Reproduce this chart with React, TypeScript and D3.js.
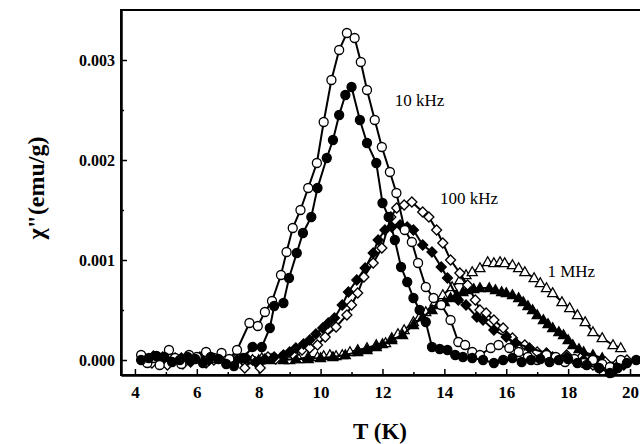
import { useRef, useEffect } from 'react'
import * as d3 from 'd3'

// [T (K), chi'' (emu/g)]
const openCircles = [
  [4.2, 0.00005], [4.4, -0.00003], [4.6, 0.00002], [4.8, -0.00005], [5.1, 0.0001], [5.3, 0.00002],
  [5.5, -0.00004], [5.75, 0.00005], [6.0, 0.00003], [6.3, 0.00008], [6.55, 0.00002], [6.8, 0.00007],
  [7.05, 0.00001], [7.3, 0.0001], [7.7, 0.00037], [7.97, 0.00034], [8.2, 0.00048], [8.43, 0.00059],
  [8.72, 0.00085], [8.9, 0.00108], [9.1, 0.00132], [9.35, 0.0015], [9.6, 0.00172], [9.88, 0.00197],
  [10.1, 0.00238], [10.35, 0.0028], [10.6, 0.0031], [10.85, 0.00327], [11.1, 0.00322], [11.3, 0.00298],
  [11.5, 0.0027], [11.75, 0.0024], [11.98, 0.00213], [12.24, 0.00188], [12.45, 0.00167], [12.72, 0.0013],
  [12.95, 0.00118], [13.15, 0.00097], [13.4, 0.00073], [13.65, 0.00062], [13.9, 0.00055], [14.2, 0.0004],
  [14.45, 0.00018], [14.67, 0.00015], [14.9, 0.00008], [15.15, 0.00005], [15.5, 0.00012], [15.75, 0.00015],
  [16.1, 0.00012], [16.4, 0.00008], [16.7, 0.00003], [17.0, 0.0], [17.3, 0.00005], [17.6, 0.00003],
  [17.9, -0.00002], [18.2, 0.00001], [18.5, -0.00003], [18.8, 0.0], [19.1, -0.00004], [19.35, -0.00007],
  [19.7, 0.0]
]

const filledCircles = [
  [4.2, 0.0], [4.45, 0.00002], [4.7, 0.00004], [4.95, 0.00003], [5.2, -0.00002], [5.45, 0.0],
  [5.7, 0.00003], [5.95, 0.00001], [6.2, -0.00003], [6.45, 0.00003], [6.7, 0.00001], [6.95, -0.00004],
  [7.2, -0.00006], [7.5, 0.00002], [7.8, 0.00013], [8.1, 0.00013], [8.36, 0.00032], [8.5, 0.00054],
  [8.8, 0.00057], [8.98, 0.00082], [9.23, 0.00107], [9.43, 0.00127], [9.7, 0.00143], [9.9, 0.00172],
  [10.2, 0.00202], [10.4, 0.0022], [10.6, 0.00245], [10.8, 0.00265], [11.0, 0.00273], [11.27, 0.0024],
  [11.5, 0.00217], [11.8, 0.00197], [12.0, 0.00157], [12.2, 0.00143], [12.4, 0.0012], [12.6, 0.00093],
  [12.8, 0.00078], [13.0, 0.00062], [13.2, 0.0005], [13.4, 0.00038], [13.6, 0.00013], [13.85, 0.00011],
  [14.1, 0.0001], [14.35, 0.00005], [14.6, 0.00003], [14.9, 0.00002], [15.25, 0.0], [15.6, -0.00003],
  [15.9, 0.0], [16.2, 0.00002], [16.5, -0.00002], [16.8, 0.0], [17.1, 0.00001], [17.4, -0.00002],
  [17.7, 0.0], [18.0, 0.00001], [18.3, -0.00003], [18.6, -0.00005], [19.0, -0.00008], [19.35, -0.00013],
  [19.6, -0.00008], [19.9, -0.00003], [20.2, 0.0]
]

const openDiamonds = [
  [4.3, 0.00002], [4.55, -0.00003], [4.8, 0.0], [5.05, -0.00005], [5.3, 0.00002], [5.55, -0.00004],
  [5.8, 0.0], [6.05, 0.00002], [6.3, -0.00003], [6.55, 0.0], [6.8, 0.00003], [7.05, 0.0],
  [7.3, 0.00002], [7.55, -0.00008], [7.8, 0.0], [8.05, -0.00008], [8.3, 0.00003], [8.55, 0.00001],
  [8.8, 0.00004], [9.1, 0.00006], [9.4, 0.0001], [9.65, 0.00012], [9.9, 0.00015], [10.15, 0.00023],
  [10.5, 0.00033], [10.85, 0.00045], [11.0, 0.00055], [11.2, 0.00067], [11.4, 0.00083], [11.7, 0.00097],
  [11.98, 0.00112], [12.27, 0.00143], [12.46, 0.00152], [12.7, 0.00155], [12.95, 0.00158], [13.3, 0.00148],
  [13.5, 0.00143], [13.75, 0.0013], [13.95, 0.00117], [14.2, 0.001], [14.5, 0.00087], [14.75, 0.00075],
  [15.0, 0.0006], [15.15, 0.0005], [15.35, 0.00047], [15.6, 0.0004], [15.9, 0.00032], [16.2, 0.00022],
  [16.6, 0.00015], [17.0, 0.00008], [17.5, 0.00003], [17.95, 0.00005], [18.4, 0.00002], [18.8, -0.00005],
  [19.2, -0.00002], [19.6, -0.00003], [19.9, 0.0]
]

const filledDiamonds = [
  [4.3, 0.0], [4.6, 0.00004], [4.9, 0.00003], [5.2, 0.0], [5.5, 0.00002], [5.8, -0.00002],
  [6.1, 0.00003], [6.4, 0.0], [6.7, 0.00002], [7.0, -0.00002], [7.3, 0.0], [7.6, 0.00002],
  [7.9, -0.00002], [8.2, 0.00001], [8.5, 0.00003], [8.8, 0.00005], [9.0, 0.00008], [9.2, 0.00012],
  [9.45, 0.00016], [9.65, 0.0002], [9.85, 0.00026], [10.07, 0.00032], [10.25, 0.00037], [10.45, 0.00042],
  [10.7, 0.00055], [10.9, 0.00068], [11.17, 0.0008], [11.44, 0.00092], [11.7, 0.00107], [11.86, 0.0012],
  [12.08, 0.0013], [12.3, 0.00133], [12.57, 0.00135], [12.8, 0.00133], [13.0, 0.0013], [13.3, 0.00115],
  [13.6, 0.00108], [13.9, 0.00093], [14.1, 0.00082], [14.45, 0.0006], [14.7, 0.00055], [15.05, 0.00043],
  [15.25, 0.0004], [15.6, 0.0003], [16.0, 0.00023], [16.3, 0.00017], [16.75, 0.00012], [17.3, 0.00007],
  [17.95, 0.00003], [18.5, 0.0], [19.0, -0.00007], [19.45, -0.00012], [19.8, -0.00005]
]

const openTriangles = [
  [7.8, 0.0], [8.1, 0.00002], [8.4, 0.0], [8.7, 0.00002], [9.0, 0.0], [9.3, 0.00001],
  [9.6, 0.00003], [9.9, 0.00003], [10.1, 0.00004], [10.3, 0.00005], [10.5, 0.00004], [10.7, 0.00005],
  [10.95, 0.00008], [11.2, 0.0001], [11.5, 0.00012], [11.8, 0.00015], [12.1, 0.00017], [12.3, 0.00022],
  [12.5, 0.00026], [12.7, 0.0003], [13.0, 0.00038], [13.2, 0.00043], [13.4, 0.00048], [13.7, 0.00058],
  [13.95, 0.00065], [14.25, 0.00073], [14.5, 0.0008], [14.7, 0.00085], [14.9, 0.00088], [15.15, 0.00092],
  [15.4, 0.00098], [15.6, 0.00097], [15.8, 0.00098], [15.95, 0.00097], [16.2, 0.00095], [16.4, 0.00092],
  [16.6, 0.00088], [16.9, 0.00082], [17.1, 0.00077], [17.3, 0.00072], [17.5, 0.00067], [17.8, 0.00058],
  [18.05, 0.00052], [18.3, 0.00045], [18.55, 0.00038], [18.8, 0.00028], [19.1, 0.00022], [19.45, 0.00015],
  [19.7, 0.00012]
]

const filledTriangles = [
  [8.0, 0.0], [8.4, 0.00001], [8.8, 0.0], [9.2, 0.00001], [9.6, 0.00001], [10.0, 0.00002],
  [10.4, 0.00003], [10.8, 0.00005], [11.2, 0.00008], [11.5, 0.0001], [11.8, 0.00013], [12.0, 0.00016],
  [12.3, 0.0002], [12.65, 0.00025], [13.0, 0.00035], [13.3, 0.00043], [13.6, 0.0005], [13.8, 0.00055],
  [14.0, 0.00058], [14.2, 0.00062], [14.4, 0.00065], [14.6, 0.00068], [14.75, 0.0007], [14.95, 0.00071],
  [15.15, 0.00072], [15.45, 0.00072], [15.65, 0.0007], [15.85, 0.00068], [16.0, 0.00067], [16.2, 0.00065],
  [16.4, 0.00062], [16.55, 0.00058], [16.7, 0.00054], [16.85, 0.0005], [17.0, 0.00045], [17.2, 0.0004],
  [17.35, 0.00036], [17.5, 0.00032], [17.7, 0.00028], [17.85, 0.00025], [18.0, 0.0002], [18.15, 0.00015],
  [18.35, 0.00011], [18.5, 0.00008], [18.8, 0.00005], [19.1, 0.00002]
]

const xMajor = [4, 6, 8, 10, 12, 14, 16, 18, 20]
const xMinor = [5, 7, 9, 11, 13, 15, 17, 19]
const yMajor = [0, 0.001, 0.002, 0.003]
const yMinor = [0.0005, 0.0015, 0.0025]

const curveLabels = [
  { text: '10 kHz', T: 13.2, v: 0.00254 },
  { text: '100 kHz', T: 14.8, v: 0.00156 },
  { text: '1 MHz', T: 18.1, v: 0.00083 }
]

const FONT = 'Liberation Serif, Times New Roman, serif'

const App = () => {
  const ref = useRef(null)

  useEffect(() => {
    const width = 640, height = 444
    const svg = d3.select(ref.current)
    svg.attr('width', width).attr('height', height)
    svg.selectAll('*').remove()

    const x = d3.scaleLinear().domain([3.55, 20.5]).range([121, 645.5])
    const y = d3.scaleLinear().domain([-0.00015, 0.0035]).range([375, 10])

    // frame
    svg.append('rect')
      .attr('x', x.range()[0]).attr('y', y.range()[1])
      .attr('width', x.range()[1] - x.range()[0])
      .attr('height', y.range()[0] - y.range()[1])
      .attr('fill', 'none').attr('stroke', '#000').attr('stroke-width', 2)

    // axes, ticks pointing inward
    const xAxis = svg.append('g').attr('transform', `translate(0,${y.range()[0]})`)
      .call(d3.axisBottom(x).tickValues(xMajor).tickSizeInner(-6).tickSizeOuter(0).tickPadding(11).tickFormat(d3.format('d')))
    const xMinorAxis = svg.append('g').attr('transform', `translate(0,${y.range()[0]})`)
      .call(d3.axisBottom(x).tickValues(xMinor).tickSizeInner(-3).tickSizeOuter(0).tickFormat(() => ''))
    const yAxis = svg.append('g').attr('transform', `translate(${x.range()[0]},0)`)
      .call(d3.axisLeft(y).tickValues(yMajor).tickSizeInner(-6).tickSizeOuter(0).tickPadding(6).tickFormat(d3.format('.3f')))
    const yMinorAxis = svg.append('g').attr('transform', `translate(${x.range()[0]},0)`)
      .call(d3.axisLeft(y).tickValues(yMinor).tickSizeInner(-3).tickSizeOuter(0).tickFormat(() => ''))

    ;[xAxis, xMinorAxis, yAxis, yMinorAxis].forEach(g => {
      g.attr('font-family', null)
      g.select('.domain').attr('stroke-width', 2)
      g.selectAll('.tick line').attr('stroke-width', 1.5)
    })
    ;[xAxis, yAxis].forEach(g => {
      g.selectAll('.tick text')
        .style('font-family', FONT).style('font-size', '17px').style('font-weight', 'bold').attr('fill', '#000')
    })
    yAxis.selectAll('.tick text').style('font-size', '16px')

    // axis titles
    svg.append('text')
      .attr('x', 380).attr('y', 439)
      .attr('text-anchor', 'middle')
      .style('font-family', FONT).style('font-size', '23px').style('font-weight', 'bold')
      .text('T (K)')
    svg.append('text')
      .attr('transform', 'translate(44,188) rotate(-90)')
      .attr('text-anchor', 'middle')
      .style('font-family', FONT).style('font-size', '24px').style('font-weight', 'bold')
      .text('χ"(emu/g)')

    const line = d3.line().x(d => x(d[0])).y(d => y(d[1]))

    const circle = 'M4.5,0A4.5,4.5,0,1,1,-4.5,0A4.5,4.5,0,1,1,4.5,0Z'
    const diamond = 'M0,-5L5,0L0,5L-5,0Z'
    const triangle = 'M0,-5.2L5,3.6L-5,3.6Z'

    const series = [
      { data: openTriangles, shape: triangle, filled: false },
      { data: filledTriangles, shape: triangle, filled: true },
      { data: openDiamonds, shape: diamond, filled: false },
      { data: filledDiamonds, shape: diamond, filled: true },
      { data: openCircles, shape: circle, filled: false },
      { data: filledCircles, shape: circle, filled: true }
    ]

    const plot = svg.append('g')
    series.forEach(s => {
      plot.append('path')
        .datum(s.data)
        .attr('d', line)
        .attr('fill', 'none')
        .attr('stroke', '#000')
        .attr('stroke-width', 2)
      plot.append('g')
        .selectAll('path')
        .data(s.data)
        .enter()
        .append('path')
          .attr('d', s.shape)
          .attr('transform', d => `translate(${x(d[0])},${y(d[1])})`)
          .attr('fill', s.filled ? '#000' : '#fff')
          .attr('stroke', '#000')
          .attr('stroke-width', 1.3)
    })

    // curve labels
    svg.append('g')
      .selectAll('text')
      .data(curveLabels)
      .enter()
      .append('text')
        .attr('x', d => x(d.T))
        .attr('y', d => y(d.v))
        .attr('text-anchor', 'middle')
        .style('font-family', FONT)
        .style('font-size', '17px')
        .text(d => d.text)
  }, [])

  return (
    <svg ref={ ref } style={ { position: 'absolute', left: 0, top: 0, background: '#fff' } }></svg>
  )
}

export default App
